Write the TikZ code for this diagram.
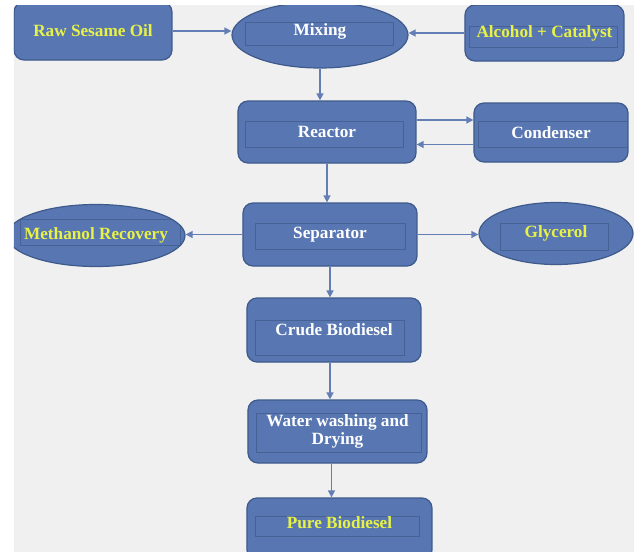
\documentclass[tikz,border=0pt]{standalone}
\usepackage{fontspec}
\setmainfont{Liberation Serif}
\usetikzlibrary{arrows.meta,shapes.geometric}
\definecolor{boxblue}{RGB}{88,119,178}
\definecolor{boxedge}{RGB}{62,90,140}
\definecolor{inneredge}{RGB}{70,98,148}
\definecolor{flowline}{RGB}{98,126,180}
\definecolor{lemon}{RGB}{232,242,70}
\definecolor{paper}{RGB}{240,240,240}

\begin{document}
\begin{tikzpicture}[x=0.5pt,y=-0.5pt,
  block/.style={rectangle,rounded corners=5pt,fill=boxblue,draw=boxedge,line width=0.6pt,
    inner sep=0pt,align=center,font=\fontsize{8.6}{9}\selectfont\bfseries,text=white},
  oval/.style={block,ellipse},
  hot/.style={text=lemon},
  inner/.style={draw=inneredge,line width=0.4pt,sharp corners},
  frame/.style n args={4}{path picture={\draw[inner]
    ([shift={(#1,#2)}]path picture bounding box.center) rectangle
    ([shift={(#3,#4)}]path picture bounding box.center);}},
  flow/.style={draw=flowline,line width=0.7pt,-{Triangle[length=3.5pt,width=3.5pt]}}]
  \useasboundingbox (0,0) rectangle (634,552);
  \clip (14,5) rectangle (634,552);
  \fill[paper] (14,5) rectangle (634,552);

  % top row
  \node[block,hot,minimum width=79pt,minimum height=29pt] (raw) at (93,31) {Raw Sesame Oil};
  \node[oval,frame={-75}{-13}{73}{10},minimum width=88pt,minimum height=33pt,text depth=5pt] (mix) at (320,35) {Mixing};
  \node[block,hot,frame={-75.5}{-7}{72.5}{14},minimum width=79.5pt,minimum height=28pt] (alc) at (544.5,33) {Alcohol + Catalyst};
  % reactor loop
  \node[block,frame={-82}{-11}{76}{15},minimum width=89pt,minimum height=31pt] (reactor) at (327,132) {Reactor};
  \node[block,frame={-73}{-11.5}{77}{14.5},minimum width=77pt,minimum height=29.5pt] (cond) at (551,132.5) {Condenser};
  % separation
  \node[block,frame={-75}{-11.5}{75}{14.5},minimum width=87pt,minimum height=31.5pt] (sep) at (330,234.5) {Separator};
  \node[oval,hot,frame={-76}{-16.5}{84}{9.5},inner xsep=-12pt,minimum width=89pt,minimum height=31pt] (meth) at (96,235.5) {Methanol Recovery};
  \node[oval,hot,frame={-56}{-10.5}{52}{16.5},minimum width=77pt,minimum height=31pt] (gly) at (556,233.5) {Glycerol};
  % product line
  \node[block,frame={-79}{-10}{70}{25},minimum width=87pt,minimum height=32pt] (crude) at (334,330) {Crude Biodiesel};
  \node[block,frame={-81.5}{-18.5}{83.5}{20.5},minimum width=89.5pt,minimum height=31.5pt] (wash) at (337.5,431.5) {Water washing and\\Drying};
  \node[block,hot,frame={-84.5}{-13}{79.5}{7},minimum width=92.5pt,minimum height=31pt,text depth=6pt] (pure) at (339.5,529) {Pure Biodiesel};

  \draw[flow] (raw.east) -- (raw.east -| mix.west);
  \draw[flow] (alc.west) -- (alc.west -| mix.east);
  \draw[flow] (mix.south) -- (mix.south |- reactor.north);
  \draw[flow] ([yshift=6pt]reactor.east) -- ([yshift=6pt]reactor.east -| cond.west);
  \draw[flow] ([yshift=-6pt]cond.west) -- ([yshift=-6pt]cond.west -| reactor.east);
  \draw[flow] (reactor.south) -- (reactor.south |- sep.north);
  \draw[flow] (sep.west) -- (sep.west -| meth.east);
  \draw[flow] (sep.east) -- (sep.east -| gly.west);
  \draw[flow] (sep.south) -- (sep.south |- crude.north);
  \draw[flow] ([xshift=-2pt]crude.south) -- ([xshift=-2pt]crude.south |- wash.north);
  \draw[flow] ([xshift=-3pt]wash.south) -- ([xshift=-3pt]wash.south |- pure.north);
\end{tikzpicture}
\end{document}
